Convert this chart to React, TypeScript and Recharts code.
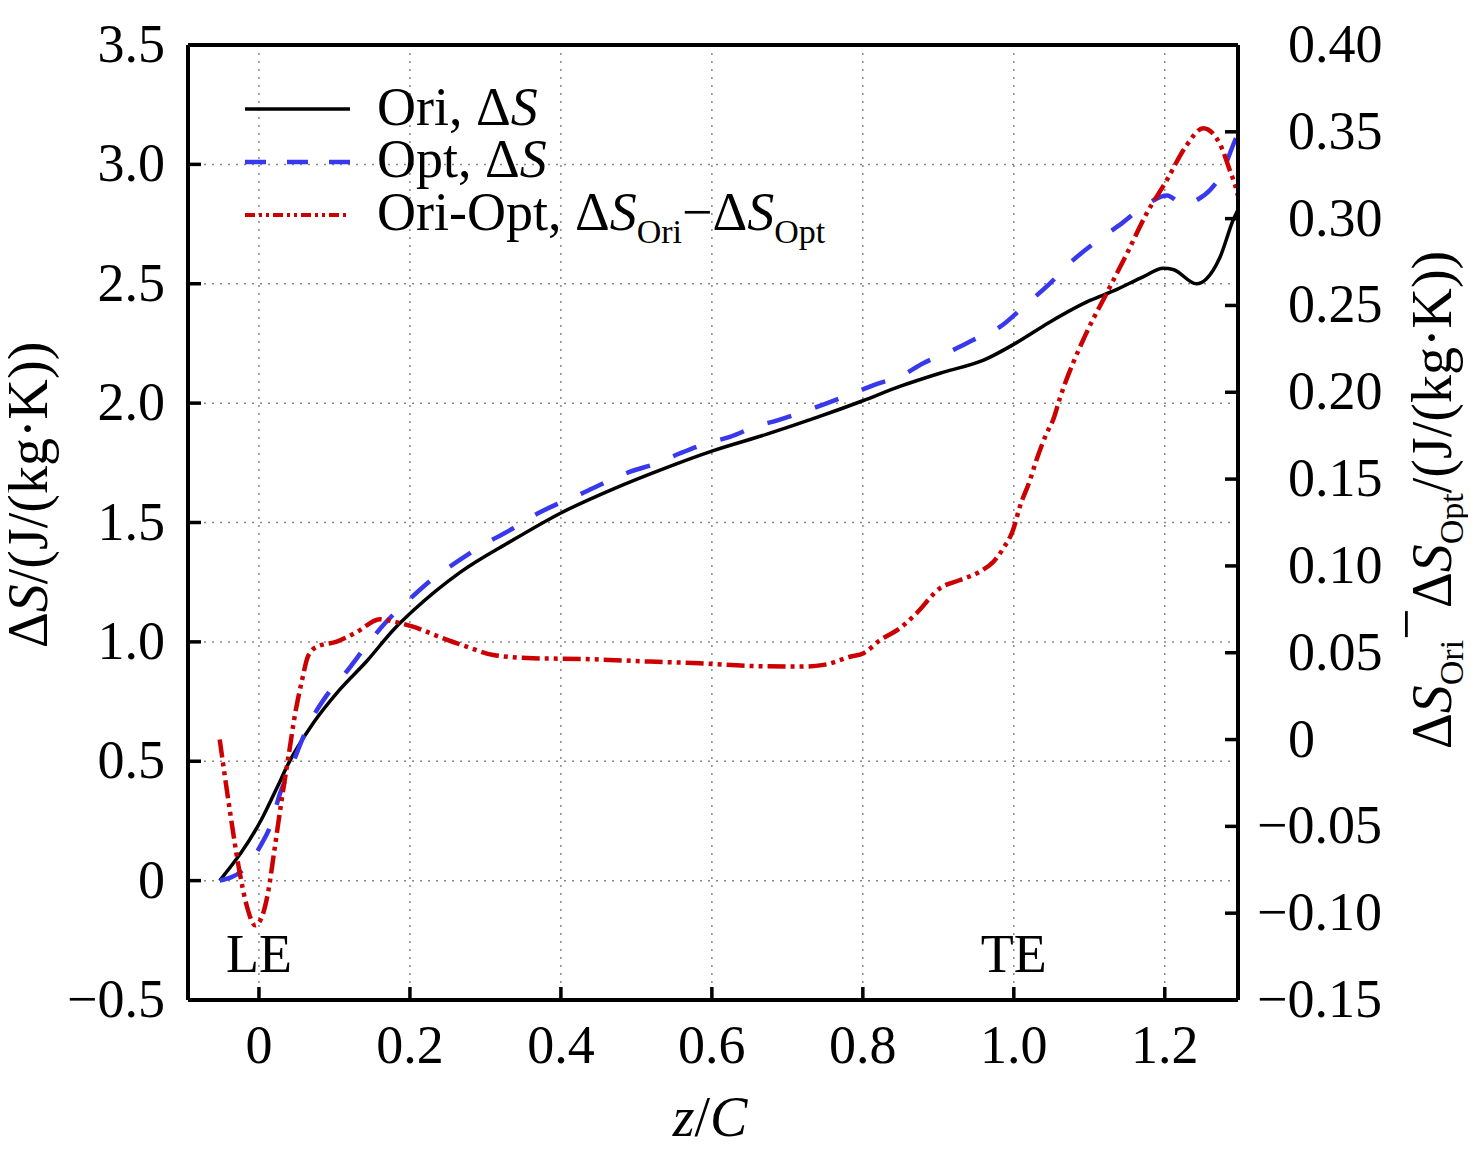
import React from 'react';
import { LineChart, Line, XAxis, YAxis, CartesianGrid, ReferenceLine, ReferenceDot, Legend } from 'recharts';

const SERIF = '"Liberation Serif", "Times New Roman", Times, serif';

const xTicks = [0, 0.2, 0.4, 0.6, 0.8, 1.0, 1.2];
const leftTicks = [-0.5, 0, 0.5, 1.0, 1.5, 2.0, 2.5, 3.0, 3.5];
const rightTicks = [-0.15, -0.1, -0.05, 0, 0.05, 0.1, 0.15, 0.2, 0.25, 0.3, 0.35, 0.4];

// Ori, ΔS (left axis)
const oriZ = [-0.052, 0.004, 0.024, 0.039, 0.072, 0.107, 0.143, 0.178, 0.204, 0.266, 0.333, 0.4, 0.469, 0.54, 0.601, 0.673, 0.739, 0.8, 0.849, 0.907, 0.96, 1.002, 1.048, 1.101, 1.132, 1.172, 1.198, 1.211, 1.242, 1.255, 1.273, 1.291, 1.297];
const oriS = [0.0, 0.26, 0.39, 0.49, 0.66, 0.8, 0.92, 1.05, 1.13, 1.29, 1.42, 1.54, 1.64, 1.73, 1.8, 1.87, 1.94, 2.01, 2.07, 2.13, 2.18, 2.25, 2.34, 2.43, 2.47, 2.53, 2.565, 2.56, 2.5, 2.52, 2.61, 2.77, 2.81];

// Opt, ΔS (left axis)
const optZ = [-0.052, -0.021, 0.004, 0.015, 0.028, 0.041, 0.068, 0.09, 0.116, 0.143, 0.169, 0.2, 0.231, 0.266, 0.297, 0.333, 0.361, 0.397, 0.428, 0.461, 0.492, 0.527, 0.558, 0.593, 0.624, 0.657, 0.688, 0.721, 0.752, 0.787, 0.818, 0.849, 0.88, 0.92, 0.946, 0.982, 1.013, 1.048, 1.079, 1.112, 1.143, 1.178, 1.203, 1.225, 1.242, 1.26, 1.273, 1.293, 1.297];
const optS = [0.0, 0.045, 0.157, 0.227, 0.366, 0.463, 0.666, 0.777, 0.875, 0.987, 1.085, 1.18, 1.266, 1.343, 1.406, 1.469, 1.524, 1.58, 1.622, 1.671, 1.713, 1.748, 1.79, 1.832, 1.859, 1.901, 1.929, 1.964, 1.999, 2.041, 2.08, 2.111, 2.167, 2.223, 2.264, 2.32, 2.404, 2.502, 2.6, 2.683, 2.753, 2.837, 2.87, 2.83, 2.85, 2.893, 2.948, 3.1, 3.13];

// Ori-Opt, ΔS_Ori − ΔS_Opt (right axis)
const diffZ = [-0.052, -0.038, -0.027, -0.016, -0.005, 0.004, 0.0125, 0.021, 0.03, 0.039, 0.048, 0.057, 0.065, 0.077, 0.103, 0.13, 0.16, 0.178, 0.204, 0.24, 0.275, 0.3105, 0.363, 0.43, 0.518, 0.584, 0.65, 0.717, 0.748, 0.783, 0.801, 0.823, 0.849, 0.871, 0.902, 0.929, 0.955, 0.973, 0.986, 0.999, 1.008, 1.0215, 1.03, 1.0435, 1.052, 1.061, 1.096, 1.123, 1.15, 1.176, 1.2025, 1.227, 1.251, 1.273, 1.286, 1.295, 1.297];
const diffS = [0.0, -0.0425, -0.073, -0.096, -0.107, -0.102, -0.087, -0.062, -0.035, -0.01, 0.015, 0.034, 0.048, 0.0535, 0.0564, 0.062, 0.0693, 0.068, 0.065, 0.059, 0.0535, 0.0487, 0.0468, 0.0464, 0.0449, 0.0439, 0.0424, 0.042, 0.043, 0.0477, 0.0497, 0.0573, 0.0641, 0.0727, 0.0871, 0.0919, 0.0967, 0.1024, 0.1101, 0.1207, 0.1341, 0.1495, 0.161, 0.1764, 0.184, 0.1965, 0.234, 0.257, 0.28, 0.303, 0.322, 0.341, 0.352, 0.343, 0.328, 0.3165, 0.313];

const toRows = (zs: number[], vs: number[]) => zs.map((z, i) => ({ z, v: vs[i] }));
const oriData = toRows(oriZ, oriS);
const optData = toRows(optZ, optS);
const diffData = toRows(diffZ, diffS);

const BLUE = '#3838ee';
const RED = '#cc0000';
const FS = 54;
const SUB = 34;

const minus = (s: string) => s.replace('-', '\u2212');
const fmtLeft = (v: number) => (v === 0 ? '0' : minus(v.toFixed(1)));
const fmtRight = (v: number) => (v === 0 ? '0' : v.toFixed(2));

const XTick = (props: any) => {
  const { x, y, payload } = props;
  return (
    <g>
      <line x1={x} y1={y} x2={x} y2={y - 13} stroke="#000" strokeWidth={3.5} />
      <text x={x} y={y + 63} textAnchor="middle" fontSize={FS} fontFamily={SERIF} fill="#000">
        {fmtLeft(payload.value)}
      </text>
    </g>
  );
};

const LeftTick = (props: any) => {
  const { x, y, payload } = props;
  return (
    <g>
      <line x1={x} y1={y} x2={x + 13} y2={y} stroke="#000" strokeWidth={3.5} />
      <text x={x - 23} y={y + 17} textAnchor="end" fontSize={FS} fontFamily={SERIF} fill="#000">
        {fmtLeft(payload.value)}
      </text>
    </g>
  );
};

const RightTick = (props: any) => {
  const { x, y, payload } = props;
  const v = payload.value;
  return (
    <g>
      <line x1={x} y1={y} x2={x - 13} y2={y} stroke="#000" strokeWidth={3.5} />
      <text x={v < 0 ? x + 19 : x + 50} y={y + 17} textAnchor="start" fontSize={FS} fontFamily={SERIF} fill="#000">
        {v < 0 ? '\u2212' + Math.abs(v).toFixed(2) : fmtRight(v)}
      </text>
    </g>
  );
};

const XTitle = () => (
  <text x={702} y={1128} textAnchor="middle" fontSize={56} fontFamily={SERIF} fill="#000">
    <tspan fontStyle="italic">z</tspan>/<tspan fontStyle="italic">C</tspan>
  </text>
);

const LeftTitle = () => (
  <text transform="translate(39, 487) rotate(-90)" textAnchor="middle" fontSize={56} fontFamily={SERIF} fill="#000">
    Δ<tspan fontStyle="italic">S</tspan>/(J/(kg·K))
  </text>
);

const RightTitle = () => (
  <text transform="translate(1443, 492) rotate(-90)" textAnchor="middle" fontSize={56} fontFamily={SERIF} fill="#000">
    Δ<tspan fontStyle="italic">S</tspan>
    <tspan fontSize={SUB} dy={12}>Ori</tspan>
    <tspan dy={-38}>−</tspan>
    <tspan dy={26}>Δ</tspan>
    <tspan fontStyle="italic">S</tspan>
    <tspan fontSize={SUB} dy={12}>Opt</tspan>
    <tspan dy={-12}>/(J/(kg·K))</tspan>
  </text>
);

const edgeLabel = (text: string) => (props: any) => {
  const vb = props.viewBox || {};
  return (
    <text x={vb.x + (vb.width || 0) / 2} y={vb.y + (vb.height || 0) / 2} textAnchor="middle" fontSize={FS} fontFamily={SERIF} fill="#000">
      {text}
    </text>
  );
};

const renderLegend = () => (
  <svg width={900} height={260} style={{ overflow: 'visible', fontFamily: SERIF }}>
    <line x1={237} y1={101} x2={342} y2={101} stroke="#000" strokeWidth={3.5} />
    <text x={369} y={117} fontSize={FS} fill="#000">
      Ori, Δ<tspan fontStyle="italic">S</tspan>
    </text>
    <line x1={237} y1={154} x2={342} y2={154} stroke={BLUE} strokeWidth={4.5} strokeDasharray="21 21" />
    <text x={369} y={169} fontSize={FS} fill="#000">
      Opt, Δ<tspan fontStyle="italic">S</tspan>
    </text>
    <line x1={237} y1={207} x2={342} y2={207} stroke={RED} strokeWidth={4} strokeDasharray="10 4 3 4 3 4" />
    <text x={369} y={222} fontSize={FS} fill="#000">
      Ori-Opt, Δ<tspan fontStyle="italic">S</tspan>
      <tspan fontSize={SUB} dy={13}>Ori</tspan>
      <tspan dy={-13}>−Δ</tspan>
      <tspan fontStyle="italic">S</tspan>
      <tspan fontSize={SUB} dy={13}>Opt</tspan>
    </text>
  </svg>
);

export default function App() {
  return (
    <div style={{ width: 1460, height: 1160, background: '#fff' }}>
      <LineChart width={1460} height={1160} margin={{ top: 37, right: 0, bottom: 0, left: 0 }}>
        <CartesianGrid
          yAxisId="left"
          stroke="#888"
          strokeWidth={1.5}
          strokeDasharray="2 6"
          verticalValues={xTicks}
          horizontalValues={leftTicks}
        />
        <XAxis
          dataKey="z"
          type="number"
          domain={[-0.094, 1.297]}
          allowDataOverflow
          ticks={xTicks}
          interval={0}
          height={168}
          tickSize={0}
          tickMargin={0}
          tickLine={false}
          axisLine={{ stroke: '#000', strokeWidth: 4 }}
          tick={XTick}
          label={XTitle}
        />
        <YAxis
          yAxisId="left"
          orientation="left"
          type="number"
          domain={[-0.5, 3.5]}
          allowDataOverflow
          ticks={leftTicks}
          interval={0}
          width={180}
          tickSize={0}
          tickMargin={0}
          tickLine={false}
          axisLine={{ stroke: '#000', strokeWidth: 4 }}
          tick={LeftTick}
          label={LeftTitle}
        />
        <YAxis
          yAxisId="right"
          orientation="right"
          type="number"
          domain={[-0.15, 0.4]}
          allowDataOverflow
          ticks={rightTicks}
          interval={0}
          width={230}
          tickSize={0}
          tickMargin={0}
          tickLine={false}
          axisLine={{ stroke: '#000', strokeWidth: 4 }}
          tick={RightTick}
          label={RightTitle}
        />
        <ReferenceLine yAxisId="left" y={3.5} stroke="#000" strokeWidth={4} />
        <Line
          yAxisId="left"
          data={oriData}
          dataKey="v"
          name="Ori"
          type="monotone"
          stroke="#000"
          strokeWidth={3.5}
          dot={false}
          isAnimationActive={false}
        />
        <Line
          yAxisId="left"
          data={optData}
          dataKey="v"
          name="Opt"
          type="monotone"
          stroke={BLUE}
          strokeWidth={4.5}
          strokeDasharray="25 25"
          dot={false}
          isAnimationActive={false}
        />
        <Line
          yAxisId="right"
          data={diffData}
          dataKey="v"
          name="Ori-Opt"
          type="monotone"
          stroke={RED}
          strokeWidth={4.5}
          strokeDasharray="18 5 4 5 4 5"
          dot={false}
          isAnimationActive={false}
        />
        <ReferenceDot yAxisId="left" x={0} y={-0.383} r={0} fill="none" stroke="none" label={edgeLabel('LE')} />
        <ReferenceDot yAxisId="left" x={1.0} y={-0.383} r={0} fill="none" stroke="none" label={edgeLabel('TE')} />
        <Legend
          layout="vertical"
          align="center"
          verticalAlign="middle"
          content={renderLegend}
          wrapperStyle={{ left: 0, top: 0, width: 900, height: 260 }}
        />
      </LineChart>
    </div>
  );
}
